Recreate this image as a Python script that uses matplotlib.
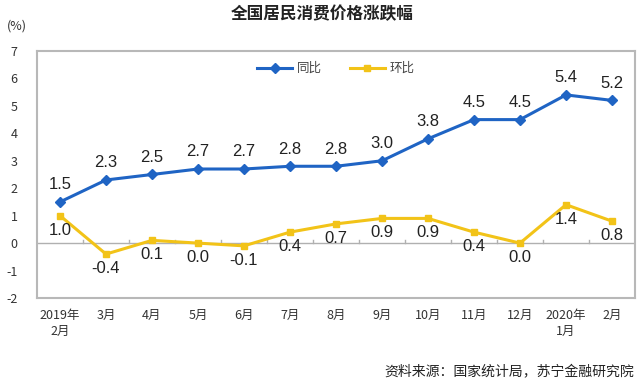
import matplotlib
matplotlib.use("Agg")
import matplotlib.pyplot as plt
import numpy as np

plt.rcParams['font.family'] = ['Noto Sans CJK SC', 'DejaVu Sans']

categories = ["2019年\n2月", "3月", "4月", "5月", "6月", "7月", "8月", "9月",
              "10月", "11月", "12月", "2020年\n1月", "2月"]
yoy = [1.5, 2.3, 2.5, 2.7, 2.7, 2.8, 2.8, 3.0, 3.8, 4.5, 4.5, 5.4, 5.2]
mom = [1.0, -0.4, 0.1, 0.0, -0.1, 0.4, 0.7, 0.9, 0.9, 0.4, 0.0, 1.4, 0.8]
yticks = [-2, -1, 0, 1, 2, 3, 4, 5, 6, 7]

blue = "#1f64c4"
yellow = "#f2c318"

fig = plt.figure(figsize=(6.44, 3.86), dpi=100)
ax = fig.add_axes([37/644, 1-298/386, (635-37)/644, (298-51)/386])

x = np.arange(len(categories))
ax.plot(x, yoy, color=blue, lw=2.2, marker="D", ms=5, label="同比", zorder=3)
ax.plot(x, mom, color=yellow, lw=2.2, marker="s", ms=4, label="环比", zorder=3)

for xi, v in zip(x, yoy):
    ax.annotate(f"{v:.1f}", (xi, v), xytext=(0, 7), textcoords="offset points",
                ha="center", va="bottom", fontsize=12, color="#222222",
                family="Liberation Sans")
for xi, v in zip(x, mom):
    ax.annotate(f"{v:.1f}", (xi, v), xytext=(0, -5), textcoords="offset points",
                ha="center", va="top", fontsize=12, color="#222222",
                family="Liberation Sans")

ax.set_xlim(-0.5, len(categories) - 0.5)
ax.set_ylim(-2, 7)
ax.set_yticks(yticks)
ax.set_yticklabels([str(t) for t in yticks], fontsize=9, color="#333333")
ax.tick_params(axis="y", length=0, pad=14)
ax.set_xticks(x)
ax.set_xticklabels(categories, fontsize=9, color="#333333", linespacing=1.3)
ax.tick_params(axis="x", length=0, pad=8)

# zero line with boundary ticks
ax.axhline(0, color="#b0b0b0", lw=1, zorder=1)
for b in np.arange(0.5, len(categories) - 0.5, 1):
    ax.plot([b, b], [0, 0.12], color="#b0b0b0", lw=1, zorder=1)

for s in ax.spines.values():
    s.set_color("#b8b8b8")
    s.set_linewidth(1.5)

ax.legend(loc="upper center", bbox_to_anchor=(0.5, 1.0), ncol=2, frameon=False,
          fontsize=9, handlelength=2.8, handletextpad=0.4, columnspacing=2.2,
          labelcolor="#444444")

fig.text(322/644, 1-14/386, "全国居民消费价格涨跌幅", ha="center", va="center",
         fontsize=12, fontweight="bold", color="#222222")
fig.text(17/644, 1-26/386, "(%)", ha="center", va="center", fontsize=9, color="#333333")
fig.text(634/644, 1-372/386, "资料来源：国家统计局，苏宁金融研究院", ha="right", va="center",
         fontsize=10, style="italic", color="#222222")

fig.savefig("out.png", dpi=100)
